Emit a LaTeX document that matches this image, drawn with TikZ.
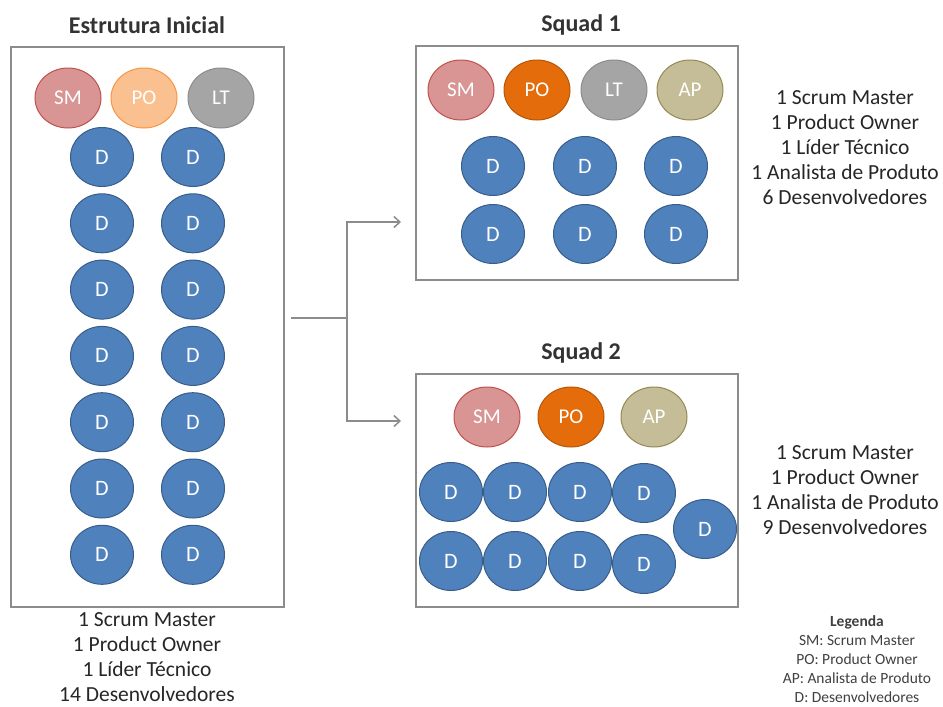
\documentclass[tikz,border=0pt]{standalone}
\usepackage{fontspec}
\setmainfont{Carlito}
\usetikzlibrary{shapes.geometric,arrows.meta}
\definecolor{smfill}{HTML}{D99594}
\definecolor{smdraw}{HTML}{C0504D}
\definecolor{poclaro}{HTML}{FAC090}
\definecolor{podraw}{HTML}{F79646}
\definecolor{pofill}{HTML}{E46C0A}
\definecolor{ltfill}{HTML}{A5A5A5}
\definecolor{ltdraw}{HTML}{8C8C8C}
\definecolor{apfill}{HTML}{C4BD97}
\definecolor{apdraw}{HTML}{948A54}
\definecolor{dfill}{HTML}{4F81BD}
\definecolor{ddraw}{HTML}{385D8A}
\definecolor{linha}{HTML}{8C8C8C}

\begin{document}
\begin{tikzpicture}[x=1pt,y=-1pt,>={Straight Barb[length=6pt,width=11pt]}]
\tikzstyle{papel}=[ellipse,draw,line width=1pt,text=white,minimum width=66pt,minimum height=60pt,inner sep=0pt,font=\fontsize{21}{21}\selectfont]
\tikzstyle{sm}=[papel,fill=smfill,draw=smdraw]
\tikzstyle{po}=[papel,fill=pofill,draw=pofill!80!black]
\tikzstyle{lt}=[papel,fill=ltfill,draw=ltdraw]
\tikzstyle{ap}=[papel,fill=apfill,draw=apdraw]
\tikzstyle{dev}=[papel,fill=dfill,draw=ddraw,minimum width=63pt,minimum height=59pt,font=\fontsize{22}{22}\selectfont]
\tikzstyle{caixa}=[rectangle,draw=linha,line width=1.5pt,inner sep=0pt]
\tikzstyle{titulo}=[font=\fontsize{24}{24}\selectfont\bfseries,text=black!80]
\tikzstyle{resumo}=[align=center,inner sep=0pt,text=black!85,font=\fontsize{21.5}{25}\selectfont]
\useasboundingbox (0,0) rectangle (943,707);

% estrutura inicial
\node[titulo] (tInicial) at (147,25) {Estrutura Inicial};
\node[caixa,minimum width=273pt,minimum height=560pt] (inicial) at (147.5,327) {};
\node[sm] (iSM) at (68,98) {SM};
\node[papel,fill=poclaro,draw=podraw] (iPO) at (144,98) {PO};
\node[lt] (iLT) at (221,98) {LT};
\foreach \r in {0,...,6}{
  \node[dev] (iDa\r) at (102,157+66.3*\r) {D};
  \node[dev] (iDb\r) at (193,157+66.3*\r) {D};
}
\node[resumo] (rInicial) at (147,657) {1 Scrum Master\\1 Product Owner\\1 Líder Técnico\\14 Desenvolvedores};

% squad 1
\node[titulo] (tSquadA) at (581,25) {Squad 1};
\node[caixa,minimum width=322pt,minimum height=234pt] (squadA) at (577,163) {};
\node[sm] (aSM) at (461,90) {SM};
\node[po] (aPO) at (537,90) {PO};
\node[lt] (aLT) at (614,90) {LT};
\node[ap] (aAP) at (690,90) {AP};
\node[dev] (aD1) at (493,166) {D};
\node[dev] (aD2) at (585,166) {D};
\node[dev] (aD3) at (676,166) {D};
\node[dev] (aD4) at (493,234) {D};
\node[dev] (aD5) at (585,234) {D};
\node[dev] (aD6) at (676,234) {D};
\node[resumo] (rSquadA) at (845,148) {1 Scrum Master\\1 Product Owner\\1 Líder Técnico\\1 Analista de Produto\\6 Desenvolvedores};

% squad 2
\node[titulo] (tSquadB) at (581,353) {Squad 2};
\node[caixa,minimum width=322pt,minimum height=233pt] (squadB) at (577,490.5) {};
\node[sm] (bSM) at (487,417) {SM};
\node[po] (bPO) at (571,417) {PO};
\node[ap] (bAP) at (654,417) {AP};
\node[dev] (bD1) at (451,492) {D};
\node[dev] (bD2) at (515,492) {D};
\node[dev] (bD3) at (580,492) {D};
\node[dev] (bD4) at (644,493) {D};
\node[dev] (bD5) at (451,561) {D};
\node[dev] (bD6) at (515,561) {D};
\node[dev] (bD7) at (580,561) {D};
\node[dev] (bD8) at (644,564) {D};
\node[dev] (bD9) at (705,529) {D};
\node[resumo] (rSquadB) at (845,490) {1 Scrum Master\\1 Product Owner\\1 Analista de Produto\\9 Desenvolvedores};

% legenda
\node[align=center,inner sep=0pt,text=black!75,font=\fontsize{15.5}{19}\selectfont] (legenda) at (857,659) {\textbf{Legenda}\\SM: Scrum Master\\PO:\ Product Owner\\AP: Analista de Produto\\D: Desenvolvedores};

% divisao
\coordinate (origem) at (291,318);
\coordinate (divide) at (347,318);
\coordinate (paraA) at (401,222);
\coordinate (paraB) at (401,421);
\draw[linha,line width=1.5pt] (origem) -- (divide);
\draw[->,linha,line width=1.5pt] (divide) |- (paraA);
\draw[->,linha,line width=1.5pt] (divide) |- (paraB);
\end{tikzpicture}
\end{document}
